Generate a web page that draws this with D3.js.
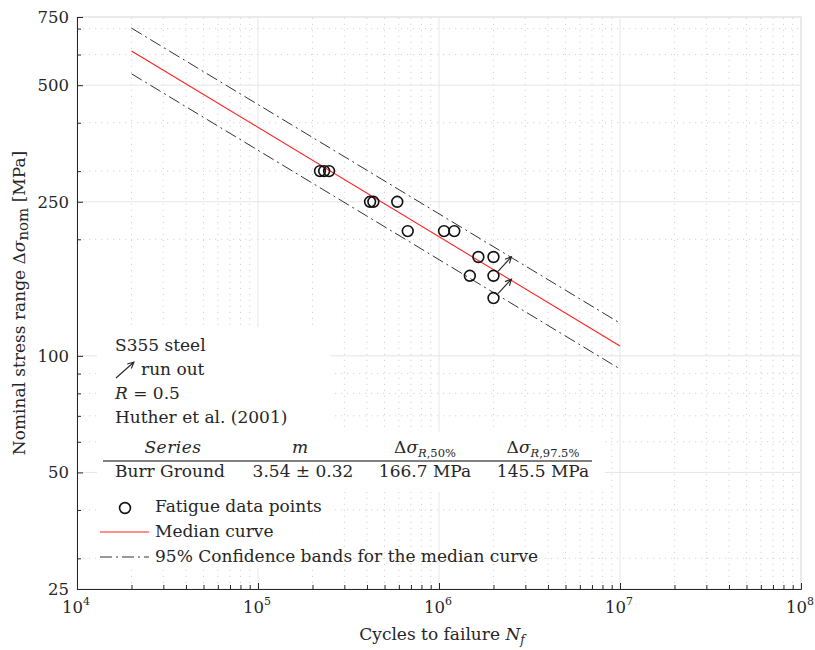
<!DOCTYPE html>
<html>
<head>
<meta charset="utf-8">
<script src="https://cdn.jsdelivr.net/npm/d3@7"></script>
<style>
  body { margin: 0; background: #fff; }
  text { font-family: "DejaVu Serif", "Liberation Serif", serif; fill: #262626; }
</style>
</head>
<body>
<div id="chart"></div>
<script>
//// data
var cycles = [2.20e5, 2.32e5, 2.47e5, 4.16e5, 4.34e5, 5.88e5, 6.72e5, 1.066e6, 1.215e6, 1.65e6, 2.0e6, 1.48e6, 2.0e6, 2.0e6];
var stress = [300, 300, 300, 250, 250, 250, 210, 210, 210, 180, 180, 161, 161, 141];
var runOut = [false, false, false, false, false, false, false, false, false, false, false, false, true, true];

var lineN = [2e4, 1e7];
var medianS = [613, 106];
var upperS = [702, 121.5];
var lowerS = [535, 92.5];

var xMajor = [1e4, 1e5, 1e6, 1e7, 1e8];
var yMajor = [25, 50, 100, 250, 500, 750];

var notes = ["S355 steel", "run out", "R = 0.5", "Huther et al. (2001)"];
var tableRow = ["Burr Ground", "3.54 \u00b1 0.32", "166.7 MPa", "145.5 MPa"];
var legendLabels = ["Fatigue data points", "Median curve", "95% Confidence bands for the median curve"];

//// chart
var W = 815, H = 650;
var margin = {top: 17, right: 14, bottom: 61, left: 77};
var FS = 17;

var svg = d3.select("#chart").append("svg")
    .attr("width", W)
    .attr("height", H);

var x = d3.scaleLog().domain([1e4, 1e8]).range([margin.left, W - margin.right]);
var y = d3.scaleLog().domain([25, 750]).range([H - margin.bottom, margin.top]);

var x0 = x.range()[0], x1 = x.range()[1], y0 = y.range()[0], y1 = y.range()[1];

var xMinor = x.ticks().filter(d => xMajor.indexOf(d) < 0);
var yMinor = y.ticks().filter(d => yMajor.indexOf(d) < 0);

//// grid
var grid = svg.append("g");
grid.selectAll(".gxm").data(xMinor).enter().append("line")
    .attr("x1", d => x(d)).attr("x2", d => x(d)).attr("y1", y0).attr("y2", y1)
    .attr("stroke", "#d4d4d4").attr("stroke-dasharray", "1.2,4.8");
grid.selectAll(".gym").data(yMinor).enter().append("line")
    .attr("y1", d => y(d)).attr("y2", d => y(d)).attr("x1", x0).attr("x2", x1)
    .attr("stroke", "#d4d4d4").attr("stroke-dasharray", "1.2,4.8");
grid.selectAll(".gx").data(xMajor).enter().append("line")
    .attr("x1", d => x(d)).attr("x2", d => x(d)).attr("y1", y0).attr("y2", y1)
    .attr("stroke", "#e6e6e6");
grid.selectAll(".gy").data(yMajor).enter().append("line")
    .attr("y1", d => y(d)).attr("y2", d => y(d)).attr("x1", x0).attr("x2", x1)
    .attr("stroke", "#e6e6e6");

//// white boxes behind text
svg.append("rect").attr("x", 97).attr("y", 327).attr("width", 234).attr("height", 105).attr("fill", "#fff");
svg.append("rect").attr("x", 97).attr("y", 432).attr("width", 508).attr("height", 60).attr("fill", "#fff");
svg.append("rect").attr("x", 97).attr("y", 492).attr("width", 233).attr("height", 76).attr("fill", "#fff").attr("opacity", 0.85);

//// box top/right
svg.append("path")
    .attr("d", "M" + x0 + "," + y1 + "H" + x1 + "V" + y0)
    .attr("fill", "none").attr("stroke", "#e3e3e3").attr("stroke-width", 1.2);

//// axes
function styleAxis(g) {
    g.selectAll("line").attr("stroke", "#262626");
    g.selectAll("path").attr("stroke", "#262626");
    g.selectAll("text").remove();
}
svg.append("g").attr("transform", "translate(0," + y0 + ")")
    .call(d3.axisBottom(x).tickValues(xMinor).tickSize(-4).tickSizeOuter(0).tickFormat(""))
    .call(styleAxis);
svg.append("g").attr("transform", "translate(0," + y0 + ")")
    .call(d3.axisBottom(x).tickValues(xMajor).tickSize(-6).tickSizeOuter(0).tickFormat(""))
    .call(styleAxis);
svg.append("g").attr("transform", "translate(" + x0 + ",0)")
    .call(d3.axisLeft(y).tickValues(yMinor).tickSize(-4).tickSizeOuter(0).tickFormat(""))
    .call(styleAxis);
svg.append("g").attr("transform", "translate(" + x0 + ",0)")
    .call(d3.axisLeft(y).tickValues(yMajor).tickSize(-6).tickSizeOuter(0).tickFormat(""))
    .call(styleAxis);

//// tick labels
svg.selectAll(".xl").data(xMajor).enter().append("text")
    .attr("x", d => x(d) - 15).attr("y", y0 + 24)
    .attr("font-size", 16.5)
    .each(function(d) {
        var t = d3.select(this);
        t.append("tspan").text("10");
        t.append("tspan").attr("dy", -8).attr("font-size", 11).text(Math.round(Math.log10(d)));
    });
svg.selectAll(".yl").data(yMajor).enter().append("text")
    .attr("x", x0 - 8).attr("y", d => y(d)).attr("dy", "0.35em")
    .attr("text-anchor", "end").attr("font-size", 16.5)
    .text(d => d);

//// axis titles
var xt = svg.append("text").attr("x", 442).attr("y", 640)
    .attr("text-anchor", "middle").attr("font-size", FS);
xt.append("tspan").text("Cycles to failure ");
xt.append("tspan").attr("font-style", "italic").text("N");
xt.append("tspan").attr("font-style", "italic").attr("font-size", 12).attr("dy", 4).text("f");

var yt = svg.append("text")
    .attr("transform", "translate(25," + (y0 + y1) / 2 + ") rotate(-90)")
    .attr("text-anchor", "middle").attr("font-size", FS);
yt.append("tspan").text("Nominal stress range \u0394");
yt.append("tspan").attr("font-style", "italic").text("\u03c3");
yt.append("tspan").attr("font-size", 15).attr("dy", 3).text("nom");
yt.append("tspan").attr("dy", -3).text(" [MPa]");

//// curves
var line = d3.line().x(d => x(d[0])).y(d => y(d[1]));
function pairs(s) { return lineN.map((n, i) => [n, s[i]]); }

svg.append("path").datum(pairs(upperS)).attr("d", line)
    .attr("fill", "none").attr("stroke", "#333").attr("stroke-width", 1)
    .attr("stroke-dasharray", "12,4,2,4");
svg.append("path").datum(pairs(lowerS)).attr("d", line)
    .attr("fill", "none").attr("stroke", "#333").attr("stroke-width", 1)
    .attr("stroke-dasharray", "12,4,2,4");
svg.append("path").datum(pairs(medianS)).attr("d", line)
    .attr("fill", "none").attr("stroke", "#ff2020").attr("stroke-width", 1.1);

//// arrow helper
function arrow(g, ax, ay, bx, by) {
    var ang = Math.atan2(by - ay, bx - ax), L = 7, a = 0.45;
    g.append("path")
        .attr("d", "M" + ax + "," + ay + "L" + bx + "," + by +
            "M" + (bx - L * Math.cos(ang - a)) + "," + (by - L * Math.sin(ang - a)) +
            "L" + bx + "," + by +
            "L" + (bx - L * Math.cos(ang + a)) + "," + (by - L * Math.sin(ang + a)))
        .attr("fill", "none").attr("stroke", "#262626").attr("stroke-width", 1.1);
}

//// points
var pts = cycles.map((n, i) => ({n: n, s: stress[i], r: runOut[i]}));
svg.selectAll(".dots").data(pts).enter().append("circle")
    .attr("class", "dots")
    .attr("cx", d => x(d.n)).attr("cy", d => y(d.s)).attr("r", 5.4)
    .attr("fill", "none").attr("stroke", "#111").attr("stroke-width", 1.6);
pts.filter(d => d.r).forEach(function(d) {
    var cx = x(d.n), cy = y(d.s);
    arrow(svg, cx + 4.5, cy - 4.5, cx + 18, cy - 19);
});

//// note box
var tx = 115;
svg.append("text").attr("x", tx).attr("y", 351).attr("font-size", FS).text(notes[0]);
arrow(svg, 116, 378, 134, 362);
svg.append("text").attr("x", 141).attr("y", 375).attr("font-size", FS).text(notes[1]);
var rt = svg.append("text").attr("x", tx).attr("y", 399).attr("font-size", FS);
rt.append("tspan").attr("font-style", "italic").text("R");
rt.append("tspan").text(notes[2].slice(1));
svg.append("text").attr("x", tx).attr("y", 423).attr("font-size", FS).text(notes[3]);

//// table
var colX = [173, 303, 425, 543];
svg.append("text").attr("x", colX[0]).attr("y", 453).attr("text-anchor", "middle")
    .attr("font-size", FS).attr("font-style", "italic").attr("letter-spacing", 0.5).text("Series");
svg.append("text").attr("x", colX[1] - 3).attr("y", 453).attr("text-anchor", "middle")
    .attr("font-size", FS).attr("font-style", "italic").text("m");
[["R,50%"], ["R,97.5%"]].forEach(function(sub, i) {
    var t = svg.append("text").attr("x", colX[2 + i]).attr("y", 453).attr("text-anchor", "middle").attr("font-size", FS);
    t.append("tspan").text("\u0394");
    t.append("tspan").attr("font-style", "italic").text("\u03c3");
    var s = t.append("tspan").attr("font-size", 11.5).attr("dy", 4);
    s.append("tspan").attr("font-style", "italic").text("R");
    s.append("tspan").text(sub[0].slice(1));
});
svg.append("line").attr("x1", 103).attr("x2", 592).attr("y1", 461).attr("y2", 461)
    .attr("stroke", "#555").attr("stroke-width", 1.3);
svg.append("text").attr("x", tx).attr("y", 477).attr("font-size", FS).text(tableRow[0]);
tableRow.slice(1).forEach(function(v, i) {
    svg.append("text").attr("x", colX[1 + i]).attr("y", 477).attr("text-anchor", "middle")
        .attr("font-size", FS).text(v);
});

//// legend
var lg = svg.append("g");
lg.append("circle").attr("cx", 125).attr("cy", 508).attr("r", 5.4)
    .attr("fill", "none").attr("stroke", "#111").attr("stroke-width", 1.6);
lg.append("line").attr("x1", 100).attr("x2", 149).attr("y1", 532).attr("y2", 532)
    .attr("stroke", "#ff2020").attr("stroke-width", 1.1);
lg.append("line").attr("x1", 100).attr("x2", 149).attr("y1", 557).attr("y2", 557)
    .attr("stroke", "#333").attr("stroke-dasharray", "12,4,2,4");
legendLabels.forEach(function(l, i) {
    lg.append("text").attr("x", 155).attr("y", 512 + i * 25).attr("font-size", FS).text(l);
});
</script>
</body>
</html>
